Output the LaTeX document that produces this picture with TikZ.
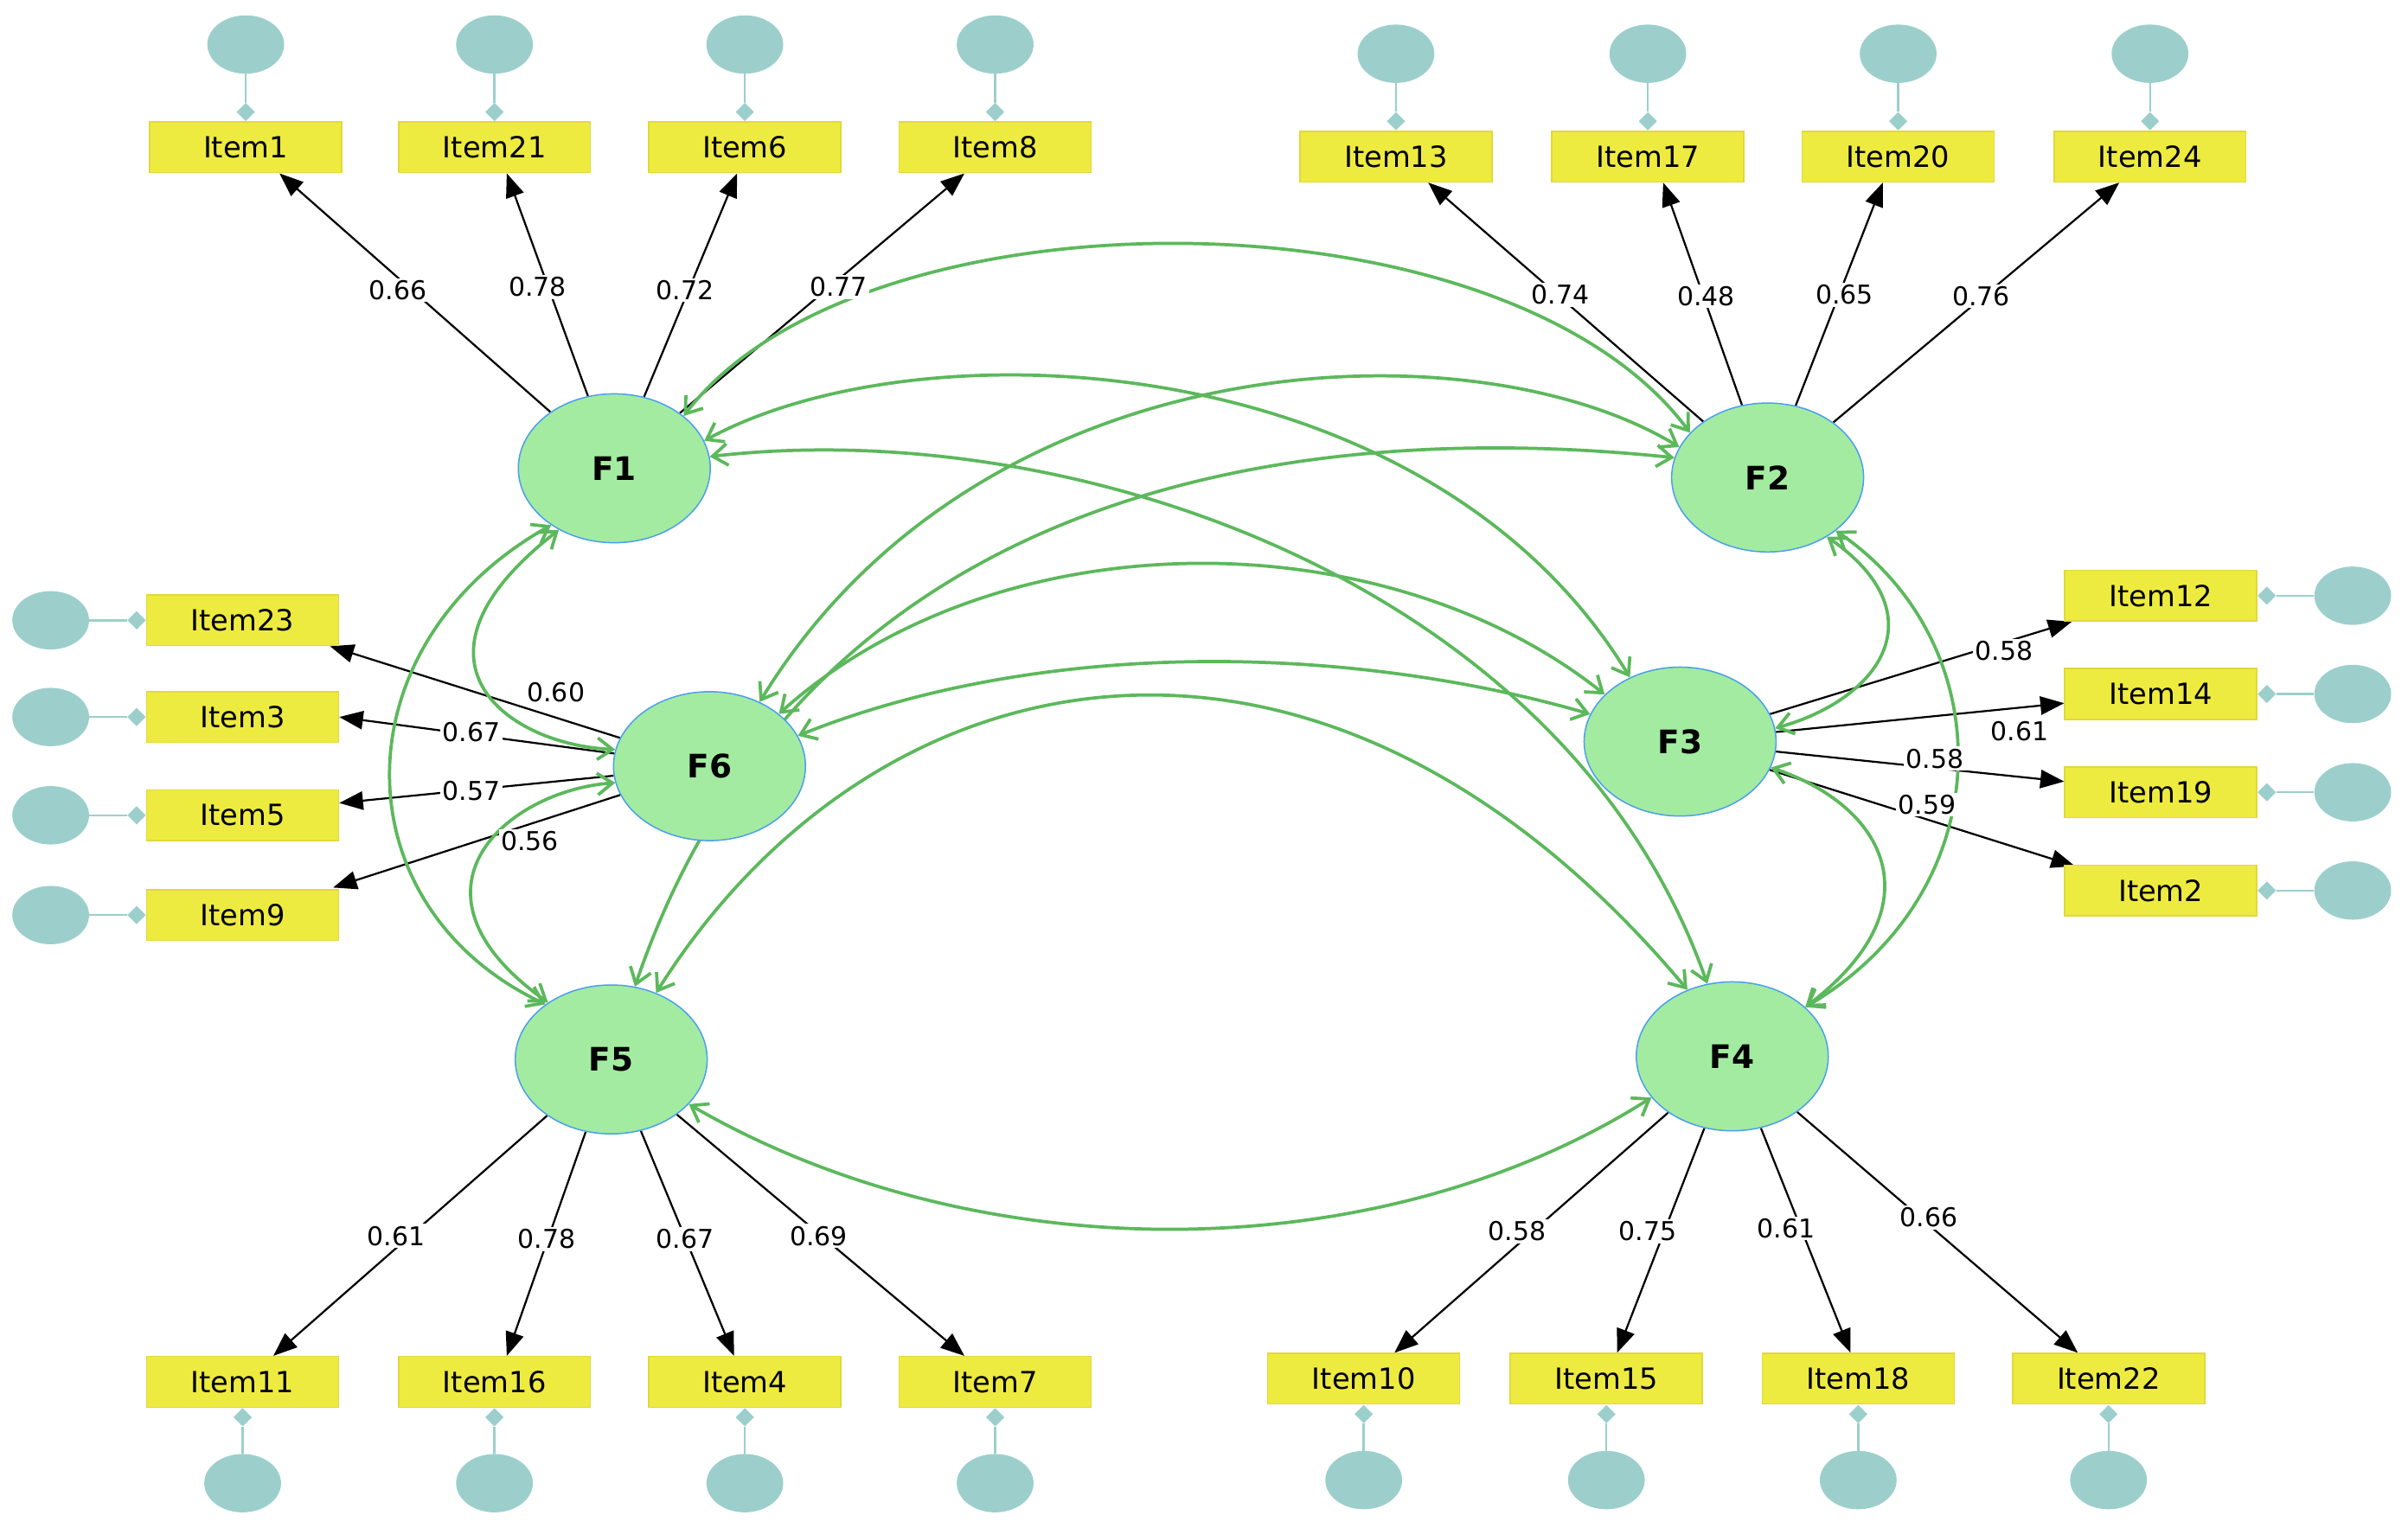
\documentclass[tikz,border=0pt]{standalone}
\usepackage{fontspec}
\setmainfont{DejaVu Sans}
\usetikzlibrary{arrows.meta,shapes.geometric,positioning,calc,backgrounds}
\definecolor{covgreen}{HTML}{5CB85C}
\definecolor{facfill}{HTML}{A3EBA0}
\definecolor{facline}{HTML}{4A9EF0}
\definecolor{itemfill}{HTML}{EEEB40}
\definecolor{itemline}{HTML}{E2D83A}
\definecolor{errfill}{HTML}{9CCFCB}
\tikzset{
  fac/.style={ellipse, draw=facline, line width=1.2pt, fill=facfill,
    minimum width=6.25cm, minimum height=4.85cm, inner sep=0pt,
    font=\fontsize{30}{34}\selectfont\bfseries},
  item/.style={rectangle, draw=itemline, line width=1.2pt, fill=itemfill,
    minimum width=6.25cm, minimum height=1.65cm, inner sep=0pt,
    font=\fontsize{27}{30}\selectfont},
  err/.style={ellipse, fill=errfill, minimum width=2.5cm, minimum height=1.9cm, inner sep=0pt},
  dia/.style={diamond, fill=errfill, minimum width=0.6cm, minimum height=0.6cm, inner sep=0pt},
  errl/.style={draw=errfill, line width=2pt},
  load/.style={draw=black, line width=1.8pt, -{Triangle[length=22pt,width=17pt]}},
  lab/.style={fill=white, inner sep=2pt, font=\fontsize{24}{28}\selectfont},
  cov/.style={draw=covgreen, line width=3pt,
    {Straight Barb[length=14pt,width=20pt]}-{Straight Barb[length=14pt,width=20pt]}}
}
\begin{document}
\begin{tikzpicture}[x=0.05cm,y=-0.05cm]
\useasboundingbox (0,0) rectangle (1568,995);

% factors
\node[fac] (F1) at (400,305) {F1};
\node[fac] (F2) at (1151,311) {F2};
\node[fac] (F3) at (1094,483) {F3};
\node[fac] (F4) at (1128,688) {F4};
\node[fac] (F5) at (398,690) {F5};
\node[fac] (F6) at (462,499) {F6};

% items with error terms
\foreach \n/\x/\y in {1/160/96, 21/322/96, 6/485/96, 8/648/96,
                      13/909/102, 17/1073/102, 20/1236/102, 24/1400/102} {
  \node[item] (I\n) at (\x,\y) {Item\n};
  \node[dia, above=0pt of I\n] (D\n) {};
  \node[err] (E\n) at (\x,\y-67) {};
  \draw[errl] (E\n) -- (D\n);
}
\foreach \n/\x/\y in {11/158/900, 16/322/900, 4/485/900, 7/648/900,
                      10/888/898, 15/1046/898, 18/1210/898, 22/1373/898} {
  \node[item] (I\n) at (\x,\y) {Item\n};
  \node[dia, below=0pt of I\n] (D\n) {};
  \node[err] (E\n) at (\x,\y+66) {};
  \draw[errl] (E\n) -- (D\n);
}
\foreach \n/\y in {23/404, 3/467, 5/531, 9/596} {
  \node[item] (I\n) at (158,\y) {Item\n};
  \node[dia, left=0pt of I\n] (D\n) {};
  \node[err] (E\n) at (33,\y) {};
  \draw[errl] (E\n) -- (D\n);
}
\foreach \n/\y in {12/388, 14/452, 19/516, 2/580} {
  \node[item] (I\n) at (1407,\y) {Item\n};
  \node[dia, right=0pt of I\n] (D\n) {};
  \node[err] (E\n) at (1532,\y) {};
  \draw[errl] (E\n) -- (D\n);
}

% loadings
\begin{scope}[on background layer]
\draw[load] (F1) -- ($(I1.south)+(22,0)$);
\draw[load] (F1) -- ($(I21.south)+(8,0)$);
\draw[load] (F1) -- ($(I6.south)+(-5,0)$);
\draw[load] (F1) -- ($(I8.south)+(-20,0)$);
\draw[load] (F2) -- ($(I13.south)+(21,0)$);
\draw[load] (F2) -- ($(I17.south)+(10,0)$);
\draw[load] (F2) -- ($(I20.south)+(-10,0)$);
\draw[load] (F2) -- ($(I24.south)+(-20,0)$);
\draw[load] (F6) -- ($(I23.south east)+(-6,0)$);
\draw[load] (F6) -- (I3.east);
\draw[load] (F6) -- ($(I5.east)+(0,-8)$);
\draw[load] (F6) -- ($(I9.north east)+(-4,-1)$);
\draw[load] (F3) -- ($(I12.south west)+(5,0)$);
\draw[load] (F3) -- ($(I14.west)+(0,6)$);
\draw[load] (F3) -- ($(I19.west)+(0,-7)$);
\draw[load] (F3) -- ($(I2.north west)+(7,1)$);
\draw[load] (F5) -- ($(I11.north)+(20,0)$);
\draw[load] (F5) -- ($(I16.north)+(8,0)$);
\draw[load] (F5) -- ($(I4.north)+(-7,0)$);
\draw[load] (F5) -- ($(I7.north)+(-20,0)$);
\draw[load] (F4) -- ($(I10.north)+(20,0)$);
\draw[load] (F4) -- ($(I15.north)+(7,0)$);
\draw[load] (F4) -- ($(I18.north)+(-5,0)$);
\draw[load] (F4) -- ($(I22.north)+(-20,0)$);

% covariances
\draw[cov] (F1.37) .. controls (560,120) and (980,120) .. (F2.150);
\draw[cov] (F1.17) .. controls (600,210) and (930,225) .. (F3.128);
\draw[cov] (F1.7) .. controls (700,270) and (1020,380) .. (F4.109);
\draw[cov] (F1.222) .. controls (220,420) and (220,590) .. (F5.140);
\draw[cov] (F1.228) .. controls (255,430) and (330,485) .. (F6.170);
\draw[cov] (F6.190) .. controls (330,515) and (255,580) .. (F5.138);
\draw[cov] (F2.-38) .. controls (1304,420) and (1304,580) .. (F4.34);
\draw[cov] (F2.-45) .. controls (1262,400) and (1225,455) .. (F3.8);
\draw[cov] (F3.-16) .. controls (1228,525) and (1262,590) .. (F4.34);
\draw[cov] (F2.161) .. controls (960,210) and (640,220) .. (F6.52);
\draw[cov] (F2.168) .. controls (820,270) and (520,330) .. (F5.72);
\draw[cov] (F6.37) .. controls (650,337) and (900,337) .. (F3.148);
\draw[cov] (F6.19) .. controls (680,415) and (880,420) .. (F3.163);
\draw[cov] (F5.56) .. controls (570,420) and (860,360) .. (F4.124);
\draw[cov] (F5.-30) .. controls (640,830) and (900,826) .. (F4.207);
\end{scope}

% loading values
\node[lab] at (259,189) {0.66};
\node[lab] at (350,187) {0.78};
\node[lab] at (446,189) {0.72};
\node[lab] at (546,187) {0.77};
\node[lab] at (1016,192) {0.74};
\node[lab] at (1111,193) {0.48};
\node[lab] at (1201,192) {0.65};
\node[lab] at (1290,193) {0.76};
\node[lab] at (362,451) {0.60};
\node[lab] at (307,477) {0.67};
\node[lab] at (307,515) {0.57};
\node[lab] at (345,548) {0.56};
\node[lab] at (1305,424) {0.58};
\node[lab] at (1315,476) {0.61};
\node[lab] at (1260,494) {0.58};
\node[lab] at (1255,524) {0.59};
\node[lab] at (258,805) {0.61};
\node[lab] at (356,807) {0.78};
\node[lab] at (446,807) {0.67};
\node[lab] at (533,805) {0.69};
\node[lab] at (988,802) {0.58};
\node[lab] at (1073,802) {0.75};
\node[lab] at (1163,800) {0.61};
\node[lab] at (1256,793) {0.66};
\end{tikzpicture}
\end{document}
